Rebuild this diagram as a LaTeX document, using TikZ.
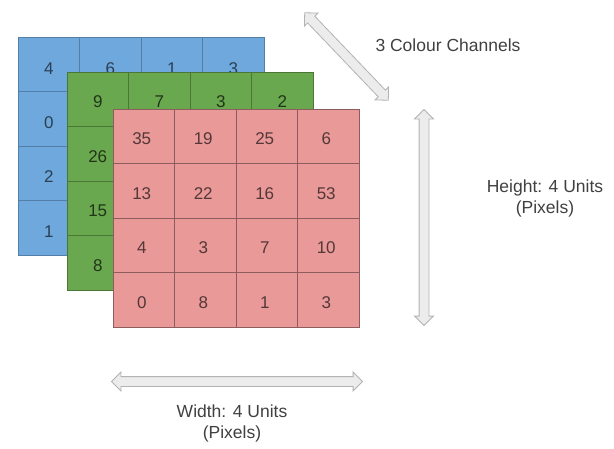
\documentclass[tikz,border=0pt]{standalone}
\usepackage{fontspec}
\setmainfont{Liberation Sans}
\usetikzlibrary{shapes.arrows}
\colorlet{background}{white}
\definecolor{blueFill}{HTML}{6FA8DC}
\definecolor{greenFill}{HTML}{6AA84F}
\definecolor{redFill}{HTML}{EA9999}
\colorlet{blueLine}{blueFill!75!black}
\colorlet{greenLine}{greenFill!70!black}
\colorlet{redLine}{redFill!60!black}
\colorlet{labelColor}{black!75}
\tikzset{
  dimarrow/.style={double arrow, draw=gray!60, fill=gray!15, line width=0.8pt,
    double arrow head extend=4.5pt, double arrow tip angle=90, inner sep=4.5pt},
  num/.style={font=\fontsize{17}{19}\selectfont, inner sep=0pt},
  lbl/.style={font=\fontsize{17.5}{21}\selectfont, text=labelColor, align=center}
}
% one channel: fill, grid lines
\newcommand{\channelgrid}[2]{%
  \fill[#1] (0,0) rectangle (246,218);
  \draw[#2] (0,0) rectangle (246,218);
  \foreach \k in {1,2,3}{%
    \draw[#2] (\k*61.5,0) -- (\k*61.5,218);
    \draw[#2] (0,\k*54.5) -- (246,\k*54.5);
  }%
}

\begin{document}
\begin{tikzpicture}[x=1pt,y=-1pt]
\useasboundingbox (0,0) rectangle (614,448);
% blue channel
\begin{scope}[shift={(18,37)}]
\channelgrid{blueFill}{blueLine}
\foreach \v [count=\c from 0] in {4,6,1,3}
  \node[num, text=blueLine!50!black] (b-1-\c) at (30.75+\c*61.5,32) {\v};
\foreach \v [count=\r from 1] in {0,2,1}
  \node[num, text=blueLine!50!black] (b-\r-0) at (30.75,31+\r*54.5) {\v};
\end{scope}
% green channel
\begin{scope}[shift={(67,72)}]
\channelgrid{greenFill}{greenLine}
\foreach \v [count=\c from 0] in {9,7,3,2}
  \node[num, text=greenLine!45!black] (g-1-\c) at (30.75+\c*61.5,30) {\v};
\foreach \v [count=\r from 1] in {26,15,8}
  \node[num, text=greenLine!45!black] (g-\r-0) at (30.75,30+\r*54.5) {\v};
\end{scope}
% red channel
\begin{scope}[shift={(113,109)}]
\channelgrid{redFill}{redLine}
\foreach \row [count=\r from 0] in {{35,19,25,6},{13,22,16,53},{4,3,7,10},{0,8,1,3}}
  \foreach \v [count=\c from 0] in \row
    \node[num, text=redLine!60!black] (r-\r-\c) at (28.75+\c*61.5,30+\r*54.5) {\v};
\end{scope}
% dimension arrows
\node[dimarrow, minimum height=121pt, rotate=-46.3] (depthArrow) at (346.5,56.5) {};
\node[dimarrow, minimum height=216pt, rotate=90] (heightArrow) at (424,217.5) {};
\node[dimarrow, minimum height=251pt] (widthArrow) at (237,381.5) {};
\node[lbl] (depthLabel) at (448,45) {3 Colour Channels};
\node[lbl] (heightLabel) at (545,198) {Height: 4 Units\\(Pixels)};
\node[lbl] (widthLabel) at (232,423) {Width: 4 Units\\(Pixels)};
\end{tikzpicture}
\end{document}
